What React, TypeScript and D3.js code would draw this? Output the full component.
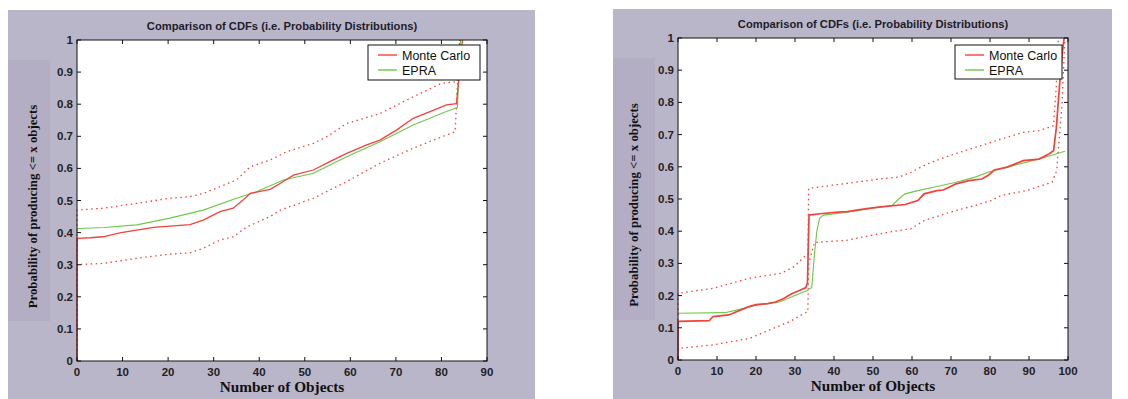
import React from "react";
import * as d3 from "d3";

type Pt = [number, number];

// ---------- Data ----------
const chartTitle = "Comparison of CDFs (i.e. Probability Distributions)";
const xAxisLabel = "Number of Objects";
const yAxisLabel = "Probability of producing <= x objects";
const legendLabels = ["Monte Carlo", "EPRA"];

const leftXTicks = [0, 10, 20, 30, 40, 50, 60, 70, 80, 90];
const rightXTicks = [0, 10, 20, 30, 40, 50, 60, 70, 80, 90, 100];
const yTicks = [0, 0.1, 0.2, 0.3, 0.4, 0.5, 0.6, 0.7, 0.8, 0.9, 1];

const leftMonteCarlo: Pt[] = [
  [0, 0], [0, 0.382], [3, 0.384], [5.7, 0.387], [9.4, 0.399], [13.1, 0.408], [16.8, 0.416],
  [20.4, 0.42], [24.8, 0.425], [27.7, 0.439], [31.4, 0.465], [34.3, 0.476], [36.5, 0.502],
  [38, 0.522], [42.4, 0.535], [45.3, 0.559], [47.5, 0.579], [51.9, 0.595], [55.5, 0.621],
  [59.2, 0.647], [63.6, 0.673], [66.5, 0.688], [70.2, 0.72], [73.8, 0.756], [77.5, 0.777],
  [81.1, 0.798], [83.3, 0.802], [83.8, 0.88], [84.3, 0.95], [84.6, 1],
];
const leftEpra: Pt[] = [
  [0, 0.413], [6, 0.416], [13.1, 0.424], [20.4, 0.445], [27.7, 0.47], [35, 0.507],
  [39.4, 0.527], [45.3, 0.564], [51.9, 0.585], [59.2, 0.636], [66.5, 0.683], [73.8, 0.735],
  [81.1, 0.777], [83.5, 0.79], [84.2, 1],
];
const leftUpper: Pt[] = [
  [0, 0], [0, 0.47], [5.7, 0.476], [13.1, 0.491], [20.4, 0.507], [24.8, 0.512], [27.7, 0.522],
  [31.4, 0.543], [35, 0.564], [38, 0.605], [42.4, 0.626], [46, 0.652], [51.9, 0.678],
  [55, 0.7], [59.2, 0.74], [66.5, 0.771], [73.8, 0.823], [80, 0.865], [83.5, 0.87], [84, 1],
];
const leftLower: Pt[] = [
  [0, 0], [0, 0.3], [5.7, 0.304], [13.1, 0.32], [20.4, 0.333], [24.8, 0.337], [27.7, 0.351],
  [31.4, 0.377], [34.3, 0.387], [37.3, 0.418], [42.4, 0.45], [44.6, 0.47], [51.9, 0.507],
  [59.2, 0.559], [66.5, 0.616], [73.8, 0.663], [81.1, 0.704], [83, 0.714], [84, 1],
];

const rightMonteCarlo: Pt[] = [
  [0, 0], [0, 0.12], [8, 0.122], [9, 0.135], [13, 0.14], [15, 0.15], [18, 0.165], [20, 0.172],
  [23, 0.175], [25, 0.18], [27, 0.19], [29, 0.205], [31, 0.215], [32.8, 0.225], [33.2, 0.24],
  [33.4, 0.35], [33.6, 0.45], [37, 0.455], [41.8, 0.46], [43.4, 0.461], [48.4, 0.47],
  [51.6, 0.475], [58.2, 0.483], [61.5, 0.495], [63.1, 0.516], [66.4, 0.526], [68, 0.528],
  [71.3, 0.547], [74.6, 0.557], [77.9, 0.562], [79.5, 0.573], [81.1, 0.59], [84.4, 0.599],
  [88.5, 0.619], [92.6, 0.624], [95.1, 0.64], [96.3, 0.65], [97, 0.72], [97.5, 0.8],
  [98, 0.88], [98.5, 0.95], [99, 1],
];
const rightEpra: Pt[] = [
  [0, 0.145], [12, 0.147], [15, 0.155], [20, 0.17], [23, 0.175], [26, 0.18], [30, 0.2],
  [33, 0.215], [34.3, 0.225], [35, 0.33], [35.6, 0.4], [36.3, 0.44], [37.3, 0.45],
  [43.4, 0.459], [51.6, 0.475], [54.9, 0.48], [56.6, 0.5], [58.2, 0.516], [61.5, 0.526],
  [66.4, 0.539], [71.3, 0.552], [76.2, 0.568], [79.5, 0.583], [84.4, 0.599], [92.6, 0.624],
  [99.2, 0.648],
];
const rightUpper: Pt[] = [
  [0, 0], [0, 0.207], [9.1, 0.223], [18.3, 0.254], [26.4, 0.269], [29.8, 0.29], [32.7, 0.325],
  [33.3, 0.325], [33.5, 0.533], [43.6, 0.549], [51.6, 0.562], [56.6, 0.568], [59.8, 0.583],
  [63.9, 0.609], [69.7, 0.635], [76.2, 0.66], [82.8, 0.686], [88.5, 0.707], [92.6, 0.712],
  [96.3, 0.728], [97, 0.85], [97.5, 1],
];
const rightLower: Pt[] = [
  [0, 0], [0, 0.036], [9.1, 0.047], [18.3, 0.067], [23.4, 0.093], [28.6, 0.119], [32.4, 0.145],
  [33.3, 0.15], [33.5, 0.3], [35, 0.365], [43.4, 0.372], [51.6, 0.392], [59.8, 0.408],
  [63.1, 0.433], [69.7, 0.459], [76.2, 0.48], [80.3, 0.495], [82.8, 0.511], [89.3, 0.526],
  [95.9, 0.552], [97.1, 0.588], [98.5, 0.8], [99.2, 1],
];

// ---------- Styles ----------
const RED = "#f2423c";
const GREEN = "#6cc94a";
const PANEL = "#bab6c9";
const PANEL_DARK = "#b3aec3";
const SANS = "Arial, 'Liberation Sans', sans-serif";
const SERIF = "'Times New Roman', 'Liberation Serif', serif";

interface ChartProps {
  panel: { x: number; y: number; w: number; h: number };
  plot: { left: number; top: number; right: number; bottom: number };
  xMax: number;
  xTicks: number[];
  mc: Pt[];
  epra: Pt[];
  upper: Pt[];
  lower: Pt[];
  legend: { x: number; y: number; w: number; h: number };
  yLabelX: number;
  mcWidth: number;
}

function Chart(p: ChartProps) {
  const x = d3.scaleLinear().domain([0, p.xMax]).range([p.plot.left, p.plot.right]);
  const y = d3.scaleLinear().domain([0, 1]).range([p.plot.bottom, p.plot.top]);
  const line = d3
    .line<Pt>()
    .x((d) => x(d[0]))
    .y((d) => y(d[1]));
  const cx = (p.plot.left + p.plot.right) / 2;
  const yMid = (p.plot.top + p.plot.bottom) / 2 + 6;
  const tl = 4;
  const L = p.legend;
  return (
    <g>
      <rect x={p.panel.x} y={p.panel.y} width={p.panel.w} height={p.panel.h} fill={PANEL} />
      <rect x={p.panel.x} y={p.plot.top + 20} width={42} height={p.plot.bottom - p.plot.top - 60} fill={PANEL_DARK} />
      <rect
        x={p.plot.left}
        y={p.plot.top}
        width={p.plot.right - p.plot.left}
        height={p.plot.bottom - p.plot.top}
        fill="#fff"
      />
      <text
        x={cx}
        y={p.plot.top - 10}
        textAnchor="middle"
        fontFamily={SANS}
        fontWeight="bold"
        fontSize={11.2}
        fill="#1d1d2a"
      >
        {chartTitle}
      </text>
      {/* series */}
      <path d={line(p.upper) || ""} fill="none" stroke={RED} strokeWidth={1.3} strokeDasharray="1.5,3.5" />
      <path d={line(p.lower) || ""} fill="none" stroke={RED} strokeWidth={1.3} strokeDasharray="1.5,3.5" />
      <path d={line(p.epra) || ""} fill="none" stroke={GREEN} strokeWidth={1.1} />
      <path d={line(p.mc) || ""} fill="none" stroke={RED} strokeWidth={p.mcWidth} />
      {/* frame */}
      <rect
        x={p.plot.left}
        y={p.plot.top}
        width={p.plot.right - p.plot.left}
        height={p.plot.bottom - p.plot.top}
        fill="none"
        stroke="#111"
        strokeWidth={1}
      />
      {p.xTicks.map((t) => (
        <g key={"x" + t}>
          <line x1={x(t)} x2={x(t)} y1={p.plot.bottom} y2={p.plot.bottom - tl} stroke="#111" />
          <line x1={x(t)} x2={x(t)} y1={p.plot.top} y2={p.plot.top + tl} stroke="#111" />
          <text
            x={x(t)}
            y={p.plot.bottom + 15}
            textAnchor="middle"
            fontFamily={SANS}
            fontWeight="bold"
            fontSize={11.5}
            fill="#222"
          >
            {t}
          </text>
        </g>
      ))}
      {yTicks.map((t) => (
        <g key={"y" + t}>
          <line x1={p.plot.left} x2={p.plot.left + tl} y1={y(t)} y2={y(t)} stroke="#111" />
          <line x1={p.plot.right} x2={p.plot.right - tl} y1={y(t)} y2={y(t)} stroke="#111" />
          <text
            x={p.plot.left - 4}
            y={y(t) + 4}
            textAnchor="end"
            fontFamily={SANS}
            fontWeight="bold"
            fontSize={11.5}
            fill="#222"
          >
            {String(t)}
          </text>
        </g>
      ))}
      <text
        x={cx}
        y={p.plot.bottom + 31}
        textAnchor="middle"
        fontFamily={SERIF}
        fontWeight="bold"
        fontSize={15.3}
        fill="#111"
      >
        {xAxisLabel}
      </text>
      <text
        transform={`translate(${p.yLabelX},${yMid}) rotate(-90)`}
        textAnchor="middle"
        fontFamily={SERIF}
        fontWeight="bold"
        fontSize={12.8}
        fill="#111"
      >
        {yAxisLabel}
      </text>
      {/* legend */}
      <rect x={L.x} y={L.y} width={L.w} height={L.h} fill="#fff" stroke="#111" strokeWidth={1} />
      <line x1={L.x + 10} x2={L.x + 29} y1={L.y + 10} y2={L.y + 10} stroke={RED} strokeWidth={1.4} />
      <line x1={L.x + 10} x2={L.x + 29} y1={L.y + 25} y2={L.y + 25} stroke={GREEN} strokeWidth={1.4} />
      <text x={L.x + 34} y={L.y + 14.5} fontFamily={SANS} fontSize={12.5} fill="#111">
        {legendLabels[0]}
      </text>
      <text x={L.x + 34} y={L.y + 29.5} fontFamily={SANS} fontSize={12.5} fill="#111">
        {legendLabels[1]}
      </text>
    </g>
  );
}

export default function App() {
  return (
    <svg
      width={1128}
      height={399}
      style={{ position: "absolute", left: 0, top: 0, display: "block", background: "#fff" }}
    >
      <Chart
        panel={{ x: 8, y: 10, w: 527, h: 389 }}
        plot={{ left: 77, top: 40, right: 487, bottom: 361 }}
        xMax={90}
        xTicks={leftXTicks}
        mc={leftMonteCarlo}
        epra={leftEpra}
        upper={leftUpper}
        lower={leftLower}
        legend={{ x: 368, y: 45, w: 112, h: 35 }}
        yLabelX={37}
        mcWidth={1.3}
      />
      <Chart
        panel={{ x: 613, y: 9, w: 499, h: 390 }}
        plot={{ left: 678, top: 38, right: 1068, bottom: 360 }}
        xMax={100}
        xTicks={rightXTicks}
        mc={rightMonteCarlo}
        epra={rightEpra}
        upper={rightUpper}
        lower={rightLower}
        legend={{ x: 955, y: 45, w: 107, h: 34 }}
        yLabelX={638}
        mcWidth={1.7}
      />
    </svg>
  );
}
